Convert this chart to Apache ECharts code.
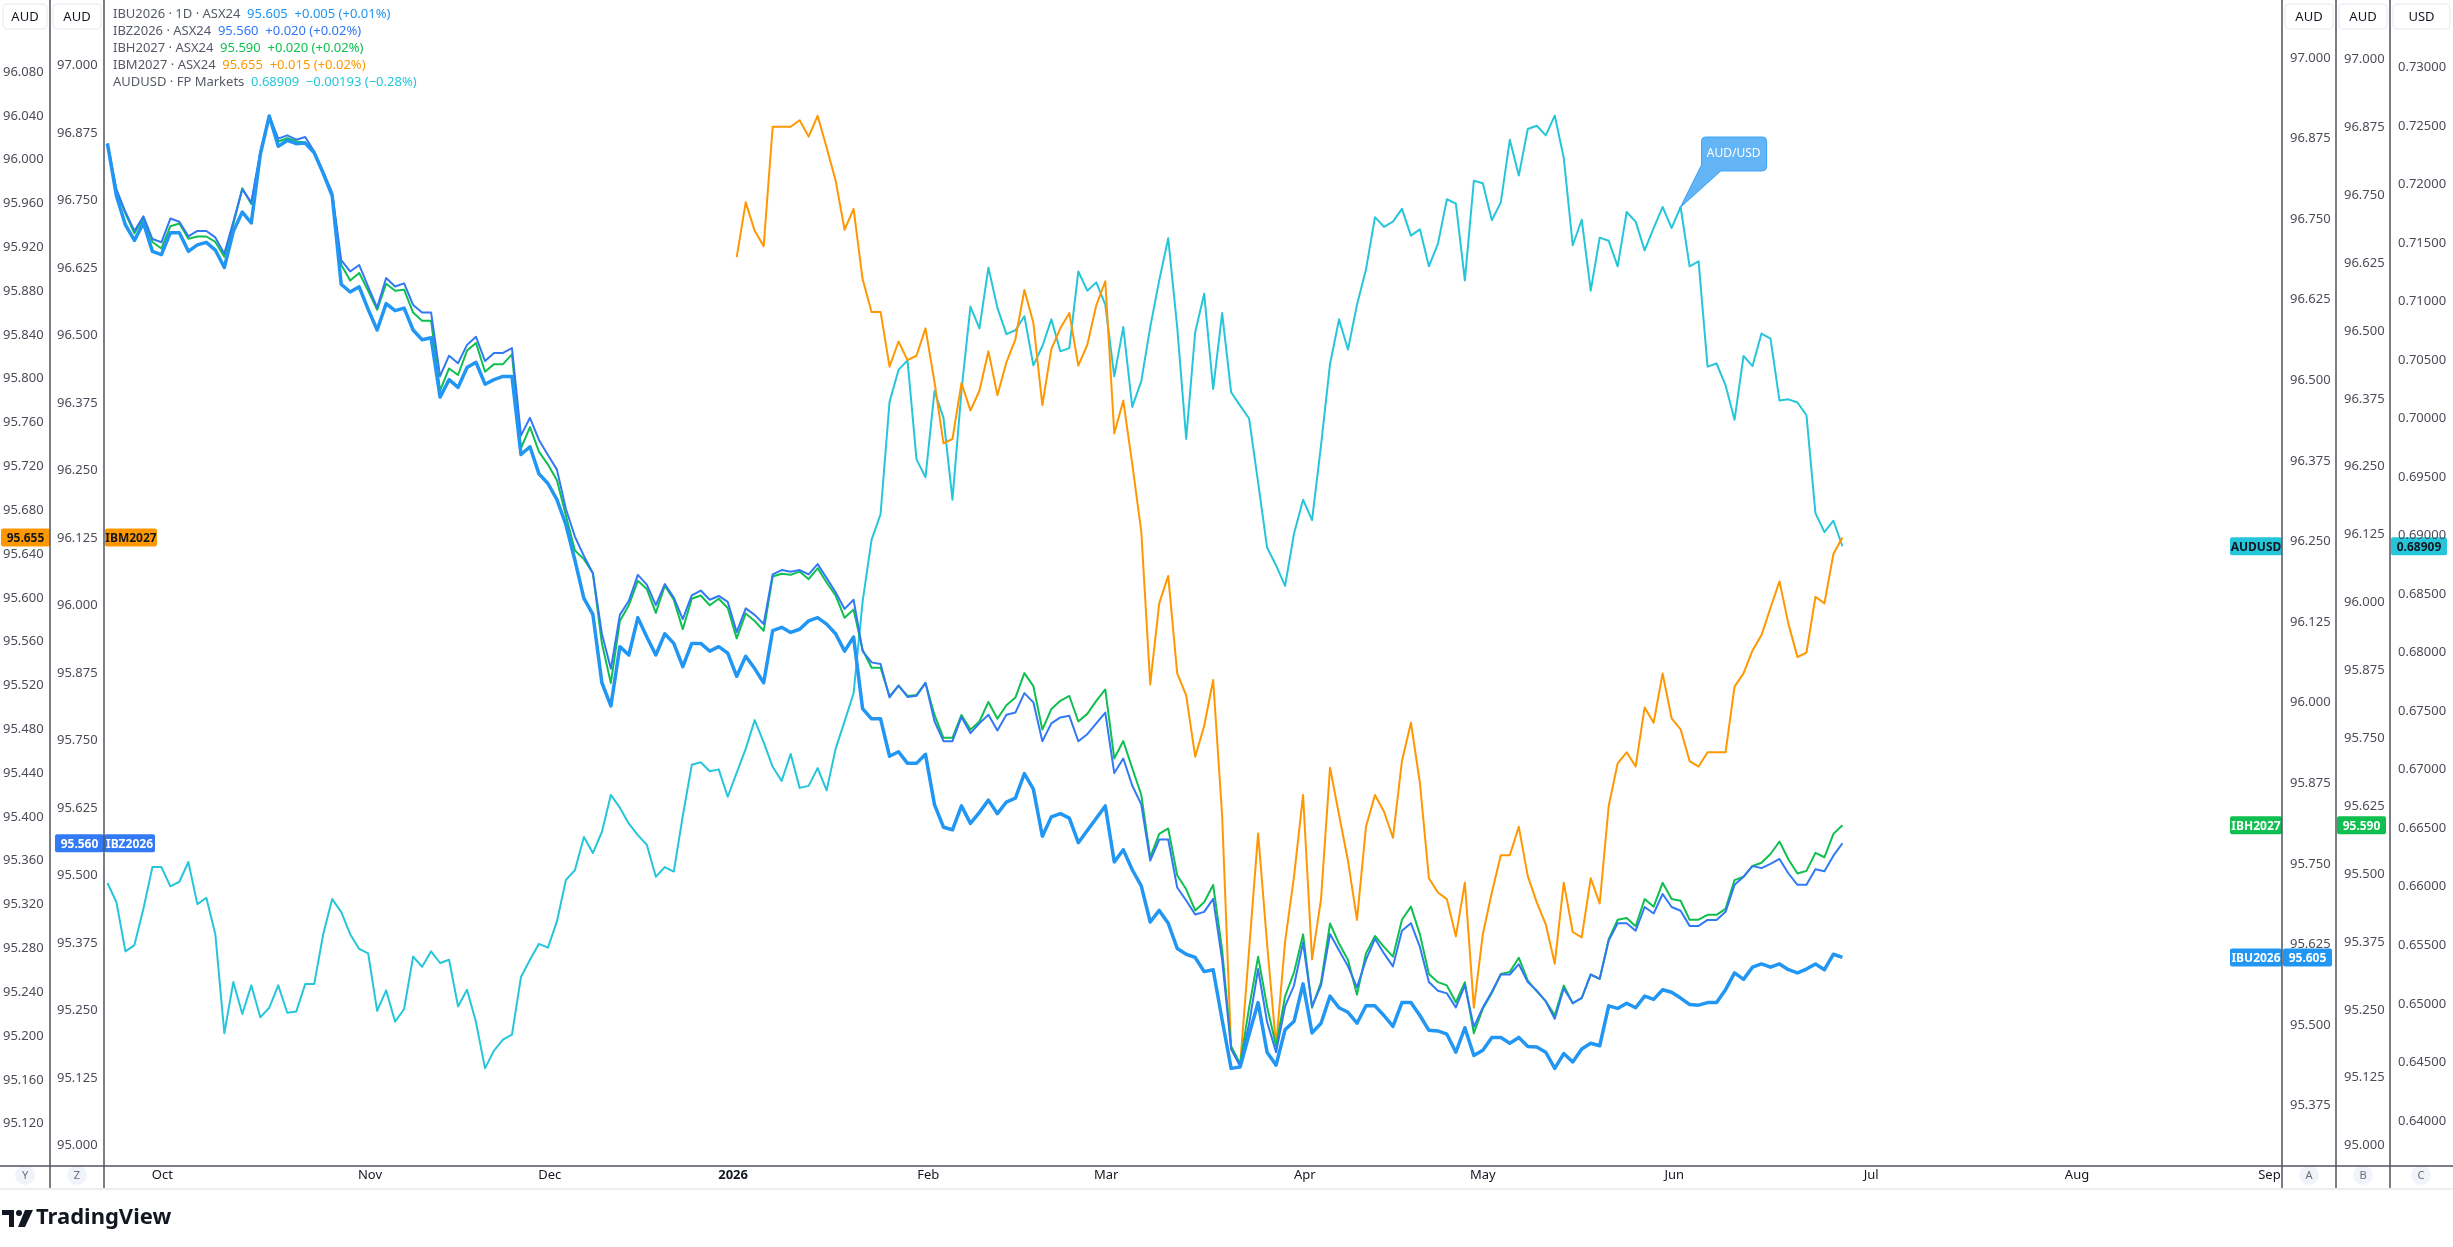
<!DOCTYPE html>
<html>
<head>
<meta charset="utf-8">
<script src="https://cdn.jsdelivr.net/npm/echarts@6/dist/echarts.min.js"></script>
<style>
  html, body { margin: 0; padding: 0; background: #fff; }
  #eCharts { width: 2453px; height: 1247px; }
</style>
</head>
<body>
<div id="eCharts"></div>
<script>
// daily closes, one value per trading day (day 0 = late Sep 2025)
var ibu2026 = [96.867,96.786,96.741,96.717,96.744,96.700,96.695,96.729,96.729,96.700,96.710,96.714,96.702,96.675,96.731,96.761,96.744,96.850,96.910,96.863,96.872,96.867,96.868,96.853,96.821,96.786,96.649,96.637,96.645,96.610,96.578,96.619,96.608,96.612,96.578,96.563,96.566,96.474,96.501,96.489,96.520,96.528,96.494,96.501,96.506,96.506,96.385,96.397,96.355,96.340,96.315,96.276,96.221,96.162,96.137,96.031,95.995,96.087,96.074,96.132,96.102,96.074,96.107,96.092,96.056,96.092,96.092,
  96.080,96.087,96.077,96.041,96.072,96.053,96.031,96.112,96.117,96.109,96.114,96.127,96.132,96.122,96.107,96.080,96.102,95.991,95.975,95.975,95.917,95.924,95.906,95.906,95.920,95.842,95.807,95.803,95.840,95.813,95.830,95.849,95.828,95.846,95.852,95.890,95.866,95.793,95.823,95.828,95.821,95.783,95.802,95.821,95.840,95.753,95.772,95.741,95.716,95.660,95.678,95.658,95.619,95.610,95.605,95.583,95.586,95.508,95.433,95.435,95.486,95.535,95.458,95.438,95.493,95.506,
  95.564,95.488,95.503,95.545,95.527,95.520,95.503,95.530,95.530,95.515,95.498,95.535,95.535,95.515,95.492,95.491,95.486,95.458,95.496,95.453,95.461,95.481,95.481,95.472,95.481,95.467,95.466,95.458,95.433,95.456,95.443,95.463,95.472,95.468,95.530,95.526,95.534,95.527,95.545,95.540,95.555,95.551,95.542,95.532,95.531,95.535,95.535,95.555,95.581,95.571,95.590,95.595,95.590,95.595,95.586,95.581,95.587,95.595,95.586,95.610,95.605];

var ibz2026 = [96.856,96.771,96.729,96.694,96.721,96.679,96.673,96.717,96.711,96.684,96.694,96.694,96.682,96.652,96.711,96.771,96.747,96.841,96.907,96.865,96.871,96.863,96.868,96.841,96.804,96.765,96.640,96.619,96.631,96.591,96.552,96.607,96.591,96.597,96.557,96.543,96.543,96.425,96.463,96.449,96.483,96.498,96.453,96.468,96.468,96.477,96.315,96.348,96.307,96.279,96.252,96.179,96.128,96.092,96.060,95.948,95.883,95.983,96.009,96.057,96.039,96.001,96.040,96.015,95.975,96.019,96.028,
  96.011,96.018,96.007,95.951,95.995,95.983,95.966,96.058,96.066,96.063,96.066,96.058,96.077,96.051,96.025,95.994,96.011,95.916,95.895,95.892,95.830,95.852,95.831,95.833,95.857,95.786,95.749,95.749,95.794,95.764,95.782,95.798,95.769,95.798,95.802,95.838,95.821,95.749,95.782,95.793,95.796,95.749,95.762,95.782,95.802,95.690,95.717,95.667,95.632,95.528,95.567,95.567,95.478,95.454,95.428,95.433,95.457,95.344,95.179,95.147,95.226,95.327,95.229,95.173,95.258,95.297,
  95.376,95.258,95.297,95.392,95.362,95.332,95.293,95.344,95.383,95.356,95.332,95.398,95.412,95.368,95.303,95.287,95.282,95.256,95.297,95.220,95.256,95.285,95.317,95.317,95.336,95.303,95.287,95.267,95.235,95.291,95.264,95.273,95.317,95.309,95.380,95.412,95.412,95.398,95.442,95.430,95.466,95.442,95.435,95.407,95.407,95.418,95.418,95.433,95.483,95.498,95.518,95.514,95.522,95.531,95.504,95.483,95.483,95.512,95.508,95.537,95.560];

var ibh2027 = [96.845,96.758,96.716,96.680,96.707,96.664,96.652,96.693,96.698,96.670,96.674,96.674,96.664,96.637,96.696,96.763,96.734,96.825,96.896,96.849,96.855,96.849,96.847,96.829,96.790,96.749,96.622,96.593,96.607,96.574,96.539,96.587,96.574,96.576,96.534,96.519,96.519,96.390,96.431,96.419,96.464,96.478,96.425,96.439,96.439,96.457,96.284,96.323,96.278,96.254,96.225,96.160,96.096,96.080,96.054,95.925,95.852,95.966,95.995,96.040,96.025,95.981,96.031,96.005,95.951,96.007,96.013,
  95.995,96.007,95.990,95.934,95.980,95.966,95.948,96.048,96.053,96.051,96.057,96.043,96.063,96.037,96.013,95.972,95.987,95.913,95.880,95.880,95.827,95.847,95.828,95.830,95.852,95.793,95.751,95.751,95.793,95.766,95.781,95.817,95.786,95.811,95.825,95.870,95.846,95.766,95.804,95.819,95.828,95.781,95.795,95.819,95.840,95.713,95.745,95.695,95.646,95.531,95.574,95.584,95.498,95.472,95.433,95.448,95.480,95.360,95.183,95.151,95.254,95.348,95.256,95.183,95.275,95.319,
  95.389,95.254,95.301,95.409,95.372,95.342,95.278,95.354,95.386,95.366,95.348,95.416,95.440,95.389,95.316,95.301,95.295,95.264,95.301,95.207,95.252,95.281,95.316,95.320,95.346,95.304,95.284,95.266,95.240,95.295,95.262,95.272,95.315,95.307,95.380,95.416,95.419,95.404,95.454,95.440,95.484,95.454,95.451,95.416,95.416,95.425,95.425,95.436,95.489,95.495,95.515,95.521,95.537,95.560,95.527,95.501,95.506,95.539,95.531,95.574,95.590];

// IBM2027 begins trading on day 70
var ibm2027Start = 70;
var ibm2027 = [95.911,95.961,95.935,95.921,96.030,96.030,96.030,96.036,96.021,96.040,96.011,95.981,95.936,95.955,95.891,95.861,95.861,95.811,95.834,95.817,95.821,95.846,95.797,95.741,95.745,95.796,95.771,95.789,95.825,95.785,95.815,95.836,95.881,95.851,95.776,95.827,95.846,95.860,95.812,95.831,95.867,95.889,95.750,95.780,95.722,95.661,95.521,95.595,95.620,95.531,95.511,95.455,95.483,95.525,95.401,95.188,95.174,95.279,95.385,95.284,95.191,95.286,95.346,
  95.420,95.270,95.325,95.445,95.402,95.360,95.306,95.391,95.420,95.405,95.381,95.451,95.486,95.431,95.344,95.331,95.325,95.291,95.340,95.226,95.293,95.331,95.365,95.365,95.391,95.346,95.322,95.302,95.266,95.340,95.295,95.290,95.344,95.321,95.410,95.449,95.459,95.446,95.500,95.486,95.531,95.490,95.480,95.451,95.446,95.459,95.459,95.459,95.519,95.531,95.552,95.566,95.591,95.615,95.576,95.546,95.550,95.601,95.595,95.640,95.655];

var audusd = [0.66032,0.65868,0.65448,0.65502,0.65813,0.66168,0.66168,0.66004,0.66043,0.66212,0.65852,0.65906,0.65595,0.64749,0.65186,0.64913,0.65158,0.64885,0.64967,0.65158,0.64924,0.64934,0.65169,0.65169,0.65595,0.65895,0.65786,0.65595,0.65469,0.65431,0.64940,0.65115,0.64847,0.64956,0.65404,0.65317,0.65448,0.65349,0.65377,0.64978,0.65120,0.64842,0.64449,0.64601,0.64694,0.64738,0.65229,0.65377,0.65513,0.65480,0.65704,0.66059,0.66141,0.66425,0.66288,0.66468,0.66785,0.66676,0.66539,0.66441,0.66359,0.66086,0.66168,0.66130,0.66605,0.67042,0.67064,
  0.66987,0.67003,0.66769,0.66976,0.67178,0.67424,0.67233,0.67025,0.66905,0.67134,0.66845,0.66862,0.67014,0.66823,0.67178,0.67413,0.67653,0.68434,0.68963,0.69182,0.70142,0.70415,0.70497,0.69651,0.69498,0.70235,0.70006,0.69307,0.70235,0.70956,0.70770,0.71289,0.70945,0.70721,0.70754,0.70874,0.70454,0.70617,0.70847,0.70574,0.70601,0.71256,0.71092,0.71163,0.70972,0.70361,0.70781,0.70099,0.70317,0.70781,0.71180,0.71540,0.70781,0.69826,0.70737,0.71065,0.70252,0.70901,0.70224,0.70110,0.70000,0.69455,0.68898,0.68745,0.68570,0.69018,
  0.69307,0.69132,0.69771,0.70464,0.70847,0.70590,0.70972,0.71272,0.71720,0.71638,0.71682,0.71791,0.71562,0.71616,0.71300,0.71491,0.71873,0.71835,0.71180,0.72031,0.72009,0.71693,0.71846,0.72381,0.72075,0.72473,0.72501,0.72419,0.72588,0.72228,0.71480,0.71698,0.71092,0.71545,0.71518,0.71300,0.71764,0.71682,0.71436,0.71627,0.71807,0.71627,0.71807,0.71300,0.71343,0.70443,0.70470,0.70284,0.69989,0.70535,0.70448,0.70726,0.70683,0.70153,0.70164,0.70137,0.70028,0.69192,0.69029,0.69127,0.68909];
var audusdNoteDay = 175;

// x axis month labels (trading-day index where each label sits)
var monthDays  = [6.1, 29.2, 49.2, 69.6, 91.3, 111.1, 133.2, 153.0, 174.3, 196.2, 219.1, 240.5];
var monthNames = ['Oct', 'Nov', 'Dec', '2026', 'Feb', 'Mar', 'Apr', 'May', 'Jun', 'Jul', 'Aug', 'Sep'];

// price scale tick labels
var ticksY = [96.08,96.04,96.00,95.96,95.92,95.88,95.84,95.80,95.76,95.72,95.68,95.64,95.60,95.56,95.52,95.48,95.44,95.40,95.36,95.32,95.28,95.24,95.20,95.16,95.12];
var ticksZ = [97.000,96.875,96.750,96.625,96.500,96.375,96.250,96.125,96.000,95.875,95.750,95.625,95.500,95.375,95.250,95.125,95.000];
var ticksA = [97.000,96.875,96.750,96.625,96.500,96.375,96.250,96.125,96.000,95.875,95.750,95.625,95.500,95.375];
var ticksB = [97.000,96.875,96.750,96.625,96.500,96.375,96.250,96.125,96.000,95.875,95.750,95.625,95.500,95.375,95.250,95.125,95.000];
var ticksC = [0.730,0.725,0.720,0.715,0.710,0.705,0.700,0.695,0.690,0.685,0.680,0.675,0.670,0.665,0.660,0.655,0.650,0.645,0.640];

var FONT = '"Noto Sans", "Open Sans", sans-serif';
var C_IBU = '#2196f3', C_IBZ = '#3179f5', C_IBH = '#0fbf4f', C_IBM = '#ff9800', C_AUD = '#26c6da';
var AXIS_C = '#50535e';

function pairs(vals, start) {
    return vals.map(function (v, i) { return [start + i, v]; });
}

function priceAxis(pos, offset, min, max, ticks, digits, align) {
    return {
        type: 'value', position: pos, offset: offset, min: min, max: max, scale: true,
        axisLine: {show: false}, axisTick: {show: false}, splitLine: {show: false},
        axisLabel: {
            customValues: ticks, color: '#4a4d57', fontFamily: FONT, fontSize: 13,
            margin: 8, align: align,
            formatter: function (v) { return v.toFixed(digits); }
        }
    };
}

function line(name, data, axis, color, width, z) {
    return {
        name: name, type: 'line', yAxisIndex: axis, data: data, showSymbol: false,
        symbol: 'none', z: z, animation: false,
        lineStyle: {color: color, width: width, join: 'round'}
    };
}

var myChart = echarts.init(document.getElementById('eCharts'));

var audSeries = line('AUDUSD', pairs(audusd, 0), 4, C_AUD, 2, 2);
audSeries.markPoint = {
    silent: true,
    data: [{
        coord: [audusdNoteDay, audusd[audusdNoteDay]],
        symbol: 'path://M0,70 L21,28 L21,5 Q21,0 26,0 L81,0 Q86,0 86,5 L86,29 Q86,34 81,34 L40,34 Z',
        symbolSize: [86, 70],
        symbolKeepAspect: false,
        symbolOffset: [43, -35],
        itemStyle: {color: '#64b5f6', borderColor: '#42a5f5', borderWidth: 1},
        label: {
            show: true, position: 'inside', offset: [10, -18], formatter: 'AUD/USD',
            color: '#fff', fontFamily: FONT, fontSize: 12
        }
    }]
};

var option = {
    animation: false,
    grid: {left: 104, right: 171, top: 0, bottom: 81},
    xAxis: {
        type: 'value', min: -0.2, max: 241.9,
        axisLine: {show: false}, axisTick: {show: false}, splitLine: {show: false},
        axisLabel: {
            customValues: monthDays, margin: 3, color: '#131722', fontFamily: FONT, fontSize: 13,
            formatter: function (v) {
                var n = monthNames[monthDays.indexOf(v)] || '';
                return n === '2026' ? '{b|2026}' : n;
            },
            rich: {b: {fontWeight: 'bold', fontFamily: FONT, fontSize: 13, color: '#131722'}}
        }
    },
    yAxis: [
        priceAxis('left', 54, 95.0814, 96.1457, ticksY, 3, 'right'),
        priceAxis('left', 0, 94.9623, 97.1217, ticksZ, 3, 'right'),
        priceAxis('right', 0, 95.2816, 97.0898, ticksA, 3, 'left'),
        priceAxis('right', 54, 94.9625, 97.1095, ticksB, 3, 'left'),
        priceAxis('right', 108, 0.63615, 0.73575, ticksC, 5, 'left')
    ],
    series: [
        audSeries,
        line('IBM2027', pairs(ibm2027, ibm2027Start), 0, C_IBM, 2, 3),
        line('IBH2027', pairs(ibh2027, 0), 3, C_IBH, 2, 4),
        line('IBZ2026', pairs(ibz2026, 0), 1, C_IBZ, 2, 5),
        line('IBU2026', pairs(ibu2026, 0), 2, C_IBU, 3.5, 6)
    ]
};
myChart.setOption(option);

// frame, headers, legend and last-price tags
function tag(x, w, yc, text, bg, fg) {
    return {
        type: 'group', z: 100, children: [
            {type: 'rect', shape: {x: x, y: yc - 9, width: w, height: 18, r: 2}, style: {fill: bg}},
            {type: 'text', style: {text: text, x: x + w / 2, y: yc + 1, align: 'center', verticalAlign: 'middle',
                fill: fg, font: 'bold 12px ' + FONT}}
        ]
    };
}
function vline(x, y2) {
    return {type: 'line', z: 90, shape: {x1: x, y1: 0, x2: x, y2: y2}, style: {stroke: AXIS_C, lineWidth: 1.5}};
}
function header(x1, x2, text) {
    return {
        type: 'group', z: 100, children: [
            {type: 'rect', shape: {x: x1 + 3, y: 4, width: x2 - x1 - 6, height: 25, r: 4},
                style: {fill: '#fff', stroke: '#e6e8ee', lineWidth: 1}},
            {type: 'text', style: {text: text, x: (x1 + x2) / 2, y: 17, align: 'center', verticalAlign: 'middle',
                fill: '#131722', font: '13px ' + FONT}}
        ]
    };
}
function badge(cx, letter) {
    return {
        type: 'group', z: 100, children: [
            {type: 'circle', shape: {cx: cx, cy: 1175, r: 10}, style: {fill: '#f0f3fa'}},
            {type: 'text', style: {text: letter, x: cx, y: 1176, align: 'center', verticalAlign: 'middle',
                fill: '#6a6d78', font: '11px ' + FONT}}
        ]
    };
}
function legendRow(i, name, val, color) {
    return {
        type: 'text', z: 100,
        style: {
            text: '{n|' + name + '}  {v|' + val + '}', x: 113, y: 14 + i * 17, verticalAlign: 'middle',
            rich: {
                n: {fill: '#555a66', font: '13px ' + FONT},
                v: {fill: color, font: '13px ' + FONT}
            }
        }
    };
}

function lastY(axis, v) {
    return myChart.convertToPixel({yAxisIndex: axis}, v);
}

var yIBM = lastY(0, ibm2027[ibm2027.length - 1]);
var yIBZ = lastY(1, ibz2026[ibz2026.length - 1]);
var yIBU = lastY(2, ibu2026[ibu2026.length - 1]);
var yIBH = lastY(3, ibh2027[ibh2027.length - 1]);
var yAUD = lastY(4, audusd[audusd.length - 1]);

myChart.setOption({
    graphic: [
        vline(50, 1188), vline(104, 1188), vline(2282, 1188), vline(2336, 1188), vline(2390, 1188),
        {type: 'line', z: 90, shape: {x1: 0, y1: 1166, x2: 2453, y2: 1166}, style: {stroke: AXIS_C, lineWidth: 1.5}},
        {type: 'line', z: 90, shape: {x1: 0, y1: 1189, x2: 2453, y2: 1189}, style: {stroke: '#eceef2', lineWidth: 2}},
        header(0, 50, 'AUD'), header(50, 104, 'AUD'),
        header(2282, 2336, 'AUD'), header(2336, 2390, 'AUD'), header(2390, 2453, 'USD'),
        badge(25, 'Y'), badge(77, 'Z'), badge(2309, 'A'), badge(2363, 'B'), badge(2421, 'C'),
        legendRow(0, 'IBU2026 · 1D · ASX24', '95.605  +0.005 (+0.01%)', C_IBU),
        legendRow(1, 'IBZ2026 · ASX24', '95.560  +0.020 (+0.02%)', C_IBZ),
        legendRow(2, 'IBH2027 · ASX24', '95.590  +0.020 (+0.02%)', C_IBH),
        legendRow(3, 'IBM2027 · ASX24', '95.655  +0.015 (+0.02%)', C_IBM),
        legendRow(4, 'AUDUSD · FP Markets', '0.68909  \u22120.00193 (\u22120.28%)', C_AUD),
        tag(1, 49, yIBM, '95.655', C_IBM, '#131722'), tag(105, 52, yIBM, 'IBM2027', C_IBM, '#131722'),
        tag(55, 49, yIBZ, '95.560', C_IBZ, '#fff'), tag(104, 51, yIBZ, 'IBZ2026', C_IBZ, '#fff'),
        tag(2230, 52, yIBU, 'IBU2026', C_IBU, '#fff'), tag(2283, 49, yIBU, '95.605', C_IBU, '#fff'),
        tag(2230, 52, yIBH, 'IBH2027', C_IBH, '#fff'), tag(2337, 49, yIBH, '95.590', C_IBH, '#fff'),
        tag(2230, 52, yAUD, 'AUDUSD', C_AUD, '#131722'), tag(2391, 56, yAUD, '0.68909', C_AUD, '#131722'),
        {type: 'text', z: 100, style: {text: 'TradingView', x: 36, y: 1218, verticalAlign: 'middle',
            fill: '#131722', font: 'bold 22px ' + FONT}},
        {type: 'polygon', z: 100, shape: {points: [[2, 1210], [14, 1210], [14, 1227], [9, 1227], [9, 1215], [2, 1215]]},
            style: {fill: '#131722'}},
        {type: 'circle', z: 100, shape: {cx: 19, cy: 1213, r: 3}, style: {fill: '#131722'}},
        {type: 'polygon', z: 100, shape: {points: [[25, 1210], [33, 1210], [25, 1227], [18, 1227]]},
            style: {fill: '#131722'}}
    ]
});
</script>
</body>
</html>
